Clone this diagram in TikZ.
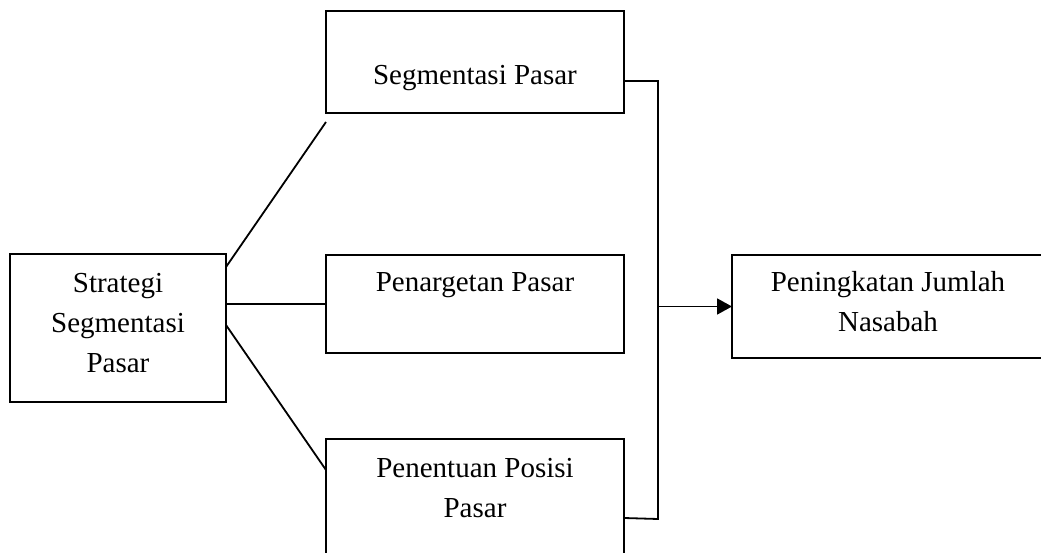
\documentclass[tikz,border=0pt]{standalone}
\usepackage{fontspec}
\setmainfont{Liberation Serif}
\usetikzlibrary{arrows.meta,calc}
\begin{document}
\begin{tikzpicture}[x=1pt,y=-1pt,
  box/.style={draw, line width=1.8pt, inner sep=0pt, outer sep=0pt},
  lbl/.style={align=center, inner sep=0pt, font=\fontsize{29}{40}\selectfont},
  conn/.style={line width=1.8pt}]
\useasboundingbox (0,0) rectangle (1041,553);
\clip (0,0) rectangle (1041,553);
\fill[white] (0,0) rectangle (1041,553);
% boxes
\node[box, minimum width=216pt, minimum height=148pt] (L) at (118,328) {};
\node[box, minimum width=298pt, minimum height=102pt] (T) at (475,62) {};
\node[box, minimum width=298pt, minimum height=98pt] (M) at (475,304) {};
\node[box, minimum width=298pt, minimum height=140pt] (B) at (475,509) {};
\node[box, minimum width=314pt, minimum height=103pt] (R) at (889,306.5) {};
% labels
\node[lbl] (Lt) at (118,323) {Strategi\\Segmentasi\\Pasar};
\node[lbl] (Tt) at (475,78) {Segmentasi Pasar};
\node[lbl] (Mt) at (475,285) {Penargetan Pasar};
\node[lbl] (Bt) at (475,488) {Penentuan Posisi\\Pasar};
\node[lbl] (Rt) at (888,302) {Peningkatan Jumlah\\Nasabah};
% left connectors
\draw[conn] ($(L.north east)+(0,13)$) -- ($(T.south west)+(0,9)$);
\draw[conn] (M.west -| L.east) -- (M.west);
\draw[conn] ($(L.east)+(0,-3)$) -- ($(B.north west)+(0,31)$);
% right connector
\coordinate (j1) at ($(T.east)+(34,19)$);
\coordinate (j2) at ($(B.east)+(34,10)$);
\draw[conn] ($(T.east)+(0,19)$) -- (j1) -- (j2) -- ($(B.east)+(0,9)$);
\draw[conn, -{Triangle[length=15pt,width=16pt]}] (R.west -| j1) -- (R.west);
\end{tikzpicture}
\end{document}
